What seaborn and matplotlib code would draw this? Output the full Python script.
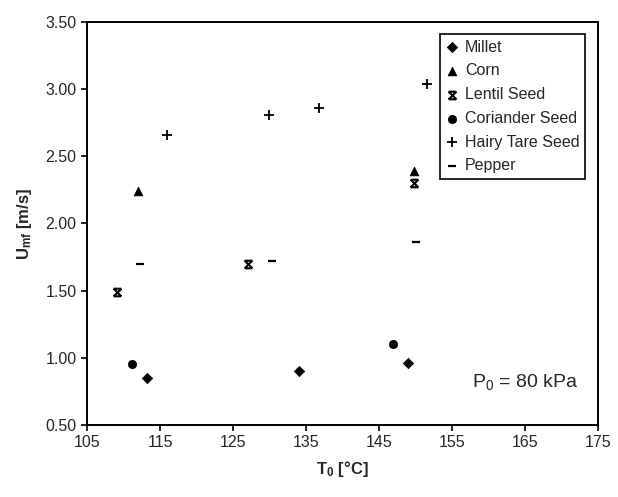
import numpy as np
import pandas as pd
import matplotlib
matplotlib.use("Agg")
import matplotlib.pyplot as plt
from matplotlib.path import Path
import seaborn as sns

# ---- data ----
millet_T = [113.2, 134.0, 148.9]
millet_U = [0.85, 0.90, 0.96]
corn_T = [111.9, 149.8]
corn_U = [2.24, 2.39]
lentil_T = [109.1, 127.0, 149.8]
lentil_U = [1.49, 1.70, 2.30]
coriander_T = [111.1, 146.9]
coriander_U = [0.95, 1.10]
hairy_T = [115.9, 129.9, 136.8, 151.6]
hairy_U = [2.66, 2.81, 2.86, 3.04]
pepper_T = [112.3, 130.3, 150.1]
pepper_U = [1.70, 1.72, 1.86]

series_names = ["Millet", "Corn", "Lentil Seed", "Coriander Seed", "Hairy Tare Seed", "Pepper"]
x_ticks = [105, 115, 125, 135, 145, 155, 165, 175]
y_ticks = [0.50, 1.00, 1.50, 2.00, 2.50, 3.00, 3.50]

sns.set_style("ticks")
plt.rcParams["font.family"] = ["Liberation Sans", "DejaVu Sans"]
plt.rcParams["mathtext.fontset"] = "custom"
plt.rcParams["mathtext.rm"] = "Liberation Sans"
plt.rcParams["mathtext.bf"] = "Liberation Sans:bold"
plt.rcParams["mathtext.it"] = "Liberation Sans:italic"

# hourglass-like "x" marker for lentil
hour_path = Path(
    [(-1, 1), (1, -1), (-1, -1), (1, 1), (-1, 1), (1, 1), (-1, -1), (1, -1)],
    [Path.MOVETO, Path.LINETO, Path.MOVETO, Path.LINETO,
     Path.MOVETO, Path.LINETO, Path.MOVETO, Path.LINETO],
)

data = {
    "Millet": (millet_T, millet_U),
    "Corn": (corn_T, corn_U),
    "Lentil Seed": (lentil_T, lentil_U),
    "Coriander Seed": (coriander_T, coriander_U),
    "Hairy Tare Seed": (hairy_T, hairy_U),
    "Pepper": (pepper_T, pepper_U),
}
styles = {
    "Millet": dict(marker="D", s=28, edgecolor="black", color="black", linewidth=0.5),
    "Corn": dict(marker="^", s=40, edgecolor="black", color="black", linewidth=0.5),
    "Lentil Seed": dict(marker=hour_path, s=30, edgecolor="black", color="black", linewidth=1.5),
    "Coriander Seed": dict(marker="o", s=36, edgecolor="black", color="black", linewidth=0.5),
    "Hairy Tare Seed": dict(marker="+", s=50, color="black", linewidth=1.3),
    "Pepper": dict(marker="_", s=30, color="black", linewidth=1.6),
}

fig = plt.figure(figsize=(6.18, 4.97), dpi=100)
ax = fig.add_axes([0.141, 0.145, 0.827, 0.811])

for name in series_names:
    T, U = data[name]
    df = pd.DataFrame({"T": T, "U": U})
    sns.scatterplot(data=df, x="T", y="U", ax=ax, label=name, **styles[name])

ax.set_xlim(105, 175)
ax.set_ylim(0.5, 3.5)
ax.set_xticks(x_ticks)
ax.set_yticks(y_ticks)
ax.set_xticklabels([str(t) for t in x_ticks], fontsize=11.5)
ax.set_yticklabels([f"{t:.2f}" for t in y_ticks], fontsize=11.5)
ax.tick_params(direction="out", length=4, width=1.2, color="black")
for sp in ax.spines.values():
    sp.set_visible(True)
    sp.set_color("black")
    sp.set_linewidth(1.4)

ax.set_xlabel(r"$\mathbf{T_0}$ [°C]", fontsize=12, fontweight="bold", labelpad=6)
ax.set_ylabel(r"$\mathbf{U_{mf}}$ [m/s]", fontsize=12, fontweight="bold", labelpad=8)

ax.text(165, 0.82, r"P$_0$ = 80 kPa", fontsize=14, ha="center", va="center")

leg = ax.legend(loc="upper right", bbox_to_anchor=(0.975, 0.97), frameon=True,
                fancybox=False, edgecolor="black", fontsize=11.5,
                handlelength=0.8, handletextpad=0.4, borderpad=0.35,
                labelspacing=0.55, borderaxespad=0.0)
leg.get_frame().set_linewidth(1.2)
leg.get_frame().set_alpha(1)

fig.savefig("out.png", dpi=100)
